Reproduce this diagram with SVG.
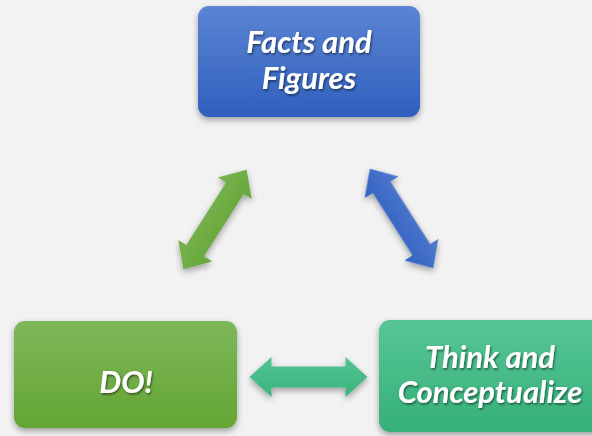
<svg xmlns="http://www.w3.org/2000/svg" width="592" height="436" viewBox="0 0 592 436">
<defs>
<linearGradient id="gBlue" x1="0" y1="0" x2="0" y2="1"><stop offset="0" stop-color="#5b84d3"/><stop offset="1" stop-color="#2f5fbe"/></linearGradient>
<linearGradient id="gGreen" x1="0" y1="0" x2="0" y2="1"><stop offset="0" stop-color="#7db75a"/><stop offset="1" stop-color="#64a533"/></linearGradient>
<linearGradient id="gTeal" x1="0" y1="0" x2="0" y2="1"><stop offset="0" stop-color="#58c597"/><stop offset="1" stop-color="#35b079"/></linearGradient>
<linearGradient id="aGreen" x1="0" y1="-20" x2="0" y2="20" gradientUnits="userSpaceOnUse"><stop offset="0" stop-color="#78b24f"/><stop offset="1" stop-color="#66a73a"/></linearGradient>
<linearGradient id="aBlue" x1="0" y1="-20" x2="0" y2="20" gradientUnits="userSpaceOnUse"><stop offset="0" stop-color="#5079cd"/><stop offset="1" stop-color="#3262c2"/></linearGradient>
<linearGradient id="aTeal" x1="0" y1="-20" x2="0" y2="20" gradientUnits="userSpaceOnUse"><stop offset="0" stop-color="#52c393"/><stop offset="1" stop-color="#3bb47f"/></linearGradient>
<filter id="sh" x="-20%" y="-20%" width="140%" height="150%"><feDropShadow dx="0" dy="3" stdDeviation="3" flood-color="#000" flood-opacity="0.35"/></filter>
<filter id="tsh" x="-10%" y="-20%" width="120%" height="150%"><feDropShadow dx="1" dy="1.5" stdDeviation="1" flood-color="#000" flood-opacity="0.55"/></filter>
<path id="dbl" d="M-59,0 L-37,-20 L-37,-10.5 L37,-10.5 L37,-20 L59,0 L37,20 L37,10.5 L-37,10.5 L-37,20 Z"/>
</defs>
<style>
.lbl{font-family:Lato,"Open Sans","Liberation Sans",sans-serif;font-weight:bold;font-style:italic;font-size:31px;fill:#fff;text-anchor:middle;filter:url(#tsh)}
</style>
<rect width="592" height="436" fill="#f2f2f2"/>
<g id="connectors" filter="url(#sh)">
<use href="#dbl" fill="url(#aGreen)" transform="translate(215,219.5) rotate(-57.6)"/>
<use href="#dbl" fill="url(#aBlue)" transform="translate(401.5,218.5) rotate(57.5)"/>
<use href="#dbl" fill="url(#aTeal)" transform="translate(308.5,377)"/>
</g>
<g id="facts">
<rect x="198" y="6" width="222" height="111" rx="11" fill="url(#gBlue)" filter="url(#sh)"/>
<text class="lbl" x="309" y="53">Facts and</text>
<text class="lbl" x="309" y="89">Figures</text>
</g>
<g id="do">
<rect x="14" y="321" width="223" height="107" rx="11" fill="url(#gGreen)" filter="url(#sh)"/>
<text class="lbl" x="126" y="393">DO!</text>
</g>
<g id="think">
<rect x="379" y="320" width="224" height="112" rx="11" fill="url(#gTeal)" filter="url(#sh)"/>
<text class="lbl" x="490" y="368">Think and</text>
<text class="lbl" x="490" y="403">Conceptualize</text>
</g>
</svg>
